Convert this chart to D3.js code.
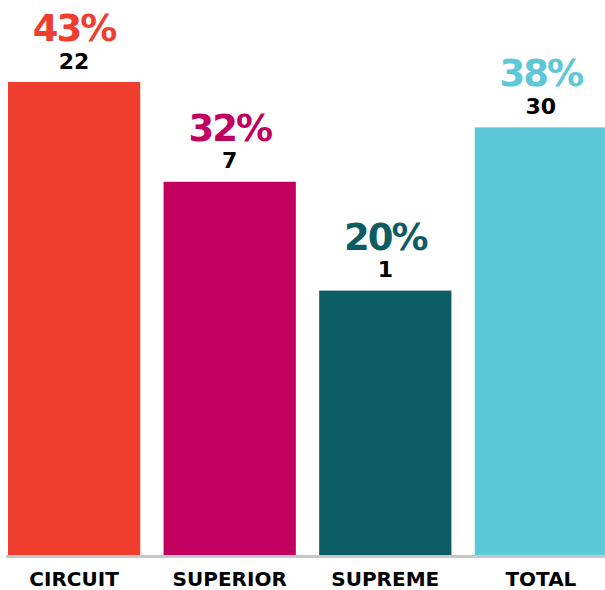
<!DOCTYPE html>
<html>
<head>
<meta charset="utf-8">
<script src="https://cdn.jsdelivr.net/npm/d3@7"></script>
<style>
  html, body { margin: 0; padding: 0; background: #fff; }
  svg { display: block; }
  text { font-family: "DejaVu Sans", sans-serif; font-weight: bold; }
</style>
</head>
<body>
<svg id="chart" width="605" height="590"></svg>
<script>
// Share of cases per court level, with the count beneath each share
const categories = ["CIRCUIT", "SUPERIOR", "SUPREME", "TOTAL"];
const percents = [43, 32, 20, 38];
const counts = [22, 7, 1, 30];
const colors = ["#EF3E2E", "#C1005F", "#0B5D63", "#5DC8D7"];

const width = 605, height = 590;
const baseY = 555, topY = 82;
const svg = d3.select("#chart");

const x = d3.scaleBand()
  .domain(categories)
  .range([8, 607])
  .paddingInner(0.15)
  .paddingOuter(0);

// bars rise from a floor below zero so short bars keep some body
const y = d3.scaleLinear()
  .domain([-9.15, d3.max(percents)])
  .range([baseY, topY]);

const rows = categories.map((c, i) => ({ c, p: percents[i], n: counts[i], color: colors[i] }));

svg.selectAll("rect.bar")
  .data(rows)
  .join("rect")
  .attr("class", "bar")
  .attr("x", d => x(d.c))
  .attr("width", x.bandwidth())
  .attr("y", d => y(d.p))
  .attr("height", d => baseY - y(d.p))
  .attr("fill", d => d.color);

// baseline rule
svg.append("line")
  .attr("x1", 6).attr("x2", width)
  .attr("y1", baseY + 1.5).attr("y2", baseY + 1.5)
  .attr("stroke", "#C8C8C8")
  .attr("stroke-width", 3);

svg.selectAll("text.pct")
  .data(rows)
  .join("text")
  .attr("class", "pct")
  .attr("x", d => x(d.c) + x.bandwidth() / 2)
  .attr("y", d => y(d.p) - 41)
  .attr("text-anchor", "middle")
  .attr("font-size", 37)
  .attr("letter-spacing", -2)
  .attr("fill", d => d.color)
  .text(d => d.p + "%");

svg.selectAll("text.cnt")
  .data(rows)
  .join("text")
  .attr("class", "cnt")
  .attr("x", d => x(d.c) + x.bandwidth() / 2)
  .attr("y", d => y(d.p) - 13.5)
  .attr("text-anchor", "middle")
  .attr("font-size", 22)
  .attr("fill", "#000")
  .text(d => d.n);

svg.selectAll("text.cat")
  .data(rows)
  .join("text")
  .attr("class", "cat")
  .attr("x", d => x(d.c) + x.bandwidth() / 2)
  .attr("y", 586)
  .attr("text-anchor", "middle")
  .attr("font-size", 20)
  .attr("fill", "#000")
  .text(d => d.c);
</script>
</body>
</html>
